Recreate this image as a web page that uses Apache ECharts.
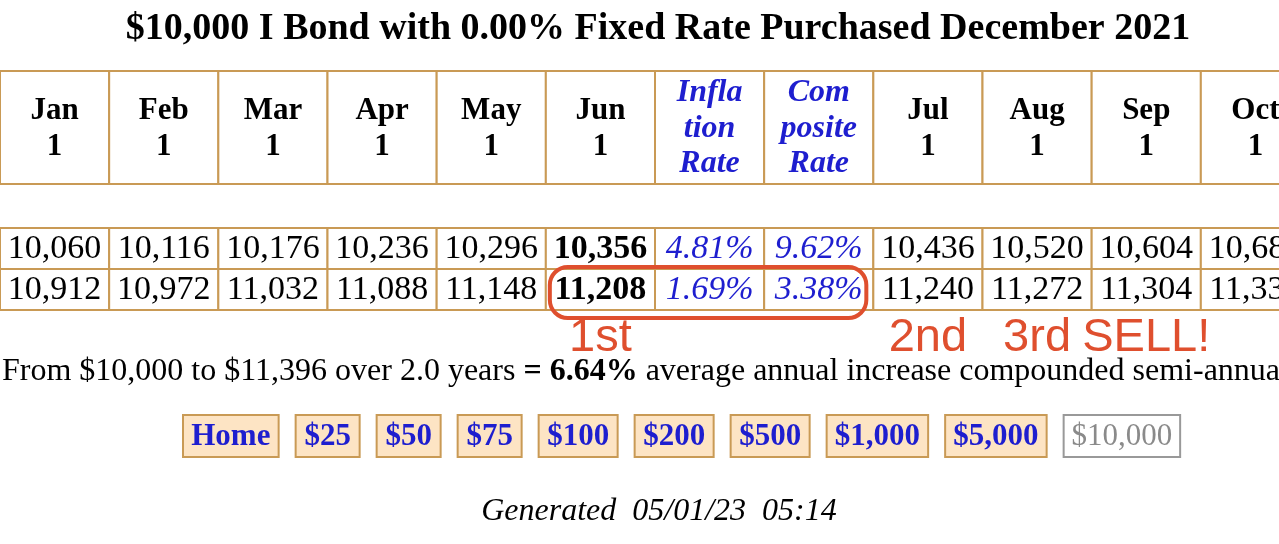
<!DOCTYPE html>
<html>
<head>
<meta charset="utf-8">
<script src="https://cdn.jsdelivr.net/npm/echarts@6/dist/echarts.min.js"></script>
<style>
    html, body { margin: 0; background: #fff; }
    #chart { width: 1279px; height: 544px; }
</style>
</head>
<body>
<div id="chart"></div>
<script>
const title = "$10,000 I Bond with 0.00% Fixed Rate Purchased December 2021";
const columnHeads = ["Jan\n1", "Feb\n1", "Mar\n1", "Apr\n1", "May\n1", "Jun\n1",
    "Infla\ntion\nRate", "Com\nposite\nRate", "Jul\n1", "Aug\n1", "Sep\n1", "Oct\n1"];
const rateColumns = [6, 7];
const boldColumn = 5;
const values2022 = [10060, 10116, 10176, 10236, 10296, 10356, 4.81, 9.62, 10436, 10520, 10604, 10688];
const values2023 = [10912, 10972, 11032, 11088, 11148, 11208, 1.69, 3.38, 11240, 11272, 11304, 11336];
const circled = { row: 1, from: 5, to: 7 };
const notes = [[5, "1st"], [8, "2nd"], [9, "3rd"], [10, "SELL!"]];
const summaryText = "From $10,000 to $11,396 over 2.0 years {b|= 6.64%} average annual increase compounded semi-annually";
const buttons = ["Home", "$25", "$50", "$75", "$100", "$200", "$500", "$1,000", "$5,000", "$10,000"];
const currentButton = "$10,000";
const generatedText = "Generated  05/01/23  05:14";

const colors = {
    border: "#c99a55",
    blue: "#1e1ecf",
    red: "#df4f2e",
    button: "#fde4c4",
    grey: "#8a8a8a"
};
const serif = "Liberation Serif";
const sans = "Liberation Sans";

const chart = echarts.init(document.getElementById("chart"));

function cellRect(api, col, row) {
    const center = api.coord([col, row]);
    const size = api.size([1, 1]);

    return {
        x: center[0] - size[0] / 2,
        y: center[1] - size[1] / 2,
        width: size[0],
        height: size[1]
    };
}

function cellBox(api, col, row) {
    return {
        type: "rect",
        shape: cellRect(api, col, row),
        style: { fill: "#fff", stroke: colors.border, lineWidth: 2 }
    };
}

function formatValue(value, col) {
    if (rateColumns.includes(col)) {
        return value.toFixed(2) + "%";
    }

    return value.toLocaleString("en-US");
}

function renderHead(params, api) {
    const col = api.value(0);
    const rect = cellRect(api, col, 0);
    const isRate = rateColumns.includes(col);

    return {
        type: "group",
        children: [
            cellBox(api, col, 0),
            {
                type: "text",
                x: rect.x + rect.width / 2,
                y: rect.y + rect.height / 2 + 1,
                style: {
                    text: columnHeads[col],
                    fontFamily: serif,
                    fontWeight: "bold",
                    fontStyle: isRate ? "italic" : "normal",
                    fontSize: isRate ? 32 : 31,
                    lineHeight: isRate ? 35.5 : 36,
                    fill: isRate ? colors.blue : "#000",
                    align: "center",
                    verticalAlign: "middle"
                }
            }
        ]
    };
}

function renderValue(params, api) {
    const col = api.value(0);
    const row = api.value(1);
    const rect = cellRect(api, col, row);
    const isRate = rateColumns.includes(col);

    return {
        type: "group",
        children: [
            cellBox(api, col, row),
            {
                type: "text",
                x: rect.x + rect.width / 2,
                y: rect.y + rect.height / 2 + 1,
                style: {
                    text: formatValue(api.value(2), col),
                    fontFamily: serif,
                    fontWeight: col === boldColumn ? "bold" : "normal",
                    fontStyle: isRate ? "italic" : "normal",
                    fontSize: 34,
                    fill: isRate ? colors.blue : "#000",
                    align: "center",
                    verticalAlign: "middle"
                }
            }
        ]
    };
}

function renderCircle(params, api) {
    const first = cellRect(api, api.value(0), api.value(2));
    const last = cellRect(api, api.value(1), api.value(2));

    return {
        type: "rect",
        shape: {
            x: first.x + 4,
            y: first.y - 2,
            width: last.x + last.width - first.x - 11,
            height: first.height + 10,
            r: 18
        },
        style: { fill: "none", stroke: colors.red, lineWidth: 4 }
    };
}

function renderNote(params, api) {
    const rect = cellRect(api, api.value(0), 1);

    return {
        type: "text",
        x: rect.x + rect.width / 2,
        y: rect.y + rect.height + 28,
        style: {
            text: notes[params.dataIndex][1],
            fontFamily: sans,
            fontSize: 47,
            fill: colors.red,
            align: "center",
            verticalAlign: "middle"
        }
    };
}

const measure = document.createElement("canvas").getContext("2d");

function buttonGraphics() {
    const items = [];
    let x = 183;

    buttons.forEach(label => {
        const current = label === currentButton;
        measure.font = (current ? "" : "bold ") + "30px '" + serif + "'";
        const width = measure.measureText(label).width + 19;

        items.push({
            type: "rect",
            shape: { x: x, y: 415, width: width, height: 42 },
            style: {
                fill: current ? "#fff" : colors.button,
                stroke: current ? "#999" : colors.border,
                lineWidth: 2
            }
        });
        items.push({
            type: "text",
            x: x + width / 2,
            y: 437,
            style: {
                text: label,
                fontFamily: serif,
                fontWeight: current ? "normal" : "bold",
                fontSize: 31,
                fill: current ? colors.grey : colors.blue,
                align: "center",
                verticalAlign: "middle"
            }
        });
        x += width + 17;
    });

    return items;
}

const valueCells = [];
[values2022, values2023].forEach((values, row) => {
    values.forEach((value, col) => valueCells.push([col, row, value]));
});

chart.setOption({
    animation: false,
    grid: [
        { left: 0, width: 1310, top: 71, height: 113, outerBoundsMode: "none" },
        { left: 0, width: 1310, top: 228, height: 82, outerBoundsMode: "none" }
    ],
    xAxis: [
        { type: "category", gridIndex: 0, data: columnHeads, show: false },
        { type: "category", gridIndex: 1, data: columnHeads, show: false }
    ],
    yAxis: [
        { type: "category", gridIndex: 0, data: ["head"], show: false },
        { type: "category", gridIndex: 1, data: ["2022", "2023"], inverse: true, show: false }
    ],
    graphic: [
        {
            type: "text",
            x: 658,
            y: 29,
            style: {
                text: title,
                fontFamily: serif,
                fontWeight: "bold",
                fontSize: 38,
                fill: "#000",
                align: "center",
                verticalAlign: "middle"
            }
        },
        {
            type: "text",
            x: 2,
            y: 372,
            style: {
                text: summaryText,
                fontFamily: serif,
                fontSize: 32,
                fill: "#000",
                verticalAlign: "middle",
                rich: {
                    b: { fontFamily: serif, fontSize: 32, fontWeight: "bold" }
                }
            }
        },
        {
            type: "text",
            x: 659,
            y: 512,
            style: {
                text: generatedText,
                fontFamily: serif,
                fontStyle: "italic",
                fontSize: 32,
                fill: "#000",
                align: "center",
                verticalAlign: "middle"
            }
        },
        ...buttonGraphics()
    ],
    series: [
        {
            type: "custom",
            xAxisIndex: 0,
            yAxisIndex: 0,
            renderItem: renderHead,
            data: columnHeads.map((head, col) => [col, 0])
        },
        {
            type: "custom",
            xAxisIndex: 1,
            yAxisIndex: 1,
            renderItem: renderValue,
            data: valueCells
        },
        {
            type: "custom",
            xAxisIndex: 1,
            yAxisIndex: 1,
            renderItem: renderCircle,
            data: [[circled.from, circled.to, circled.row]]
        },
        {
            type: "custom",
            xAxisIndex: 1,
            yAxisIndex: 1,
            renderItem: renderNote,
            data: notes.map(note => [note[0]])
        }
    ]
});
</script>
</body>
</html>
